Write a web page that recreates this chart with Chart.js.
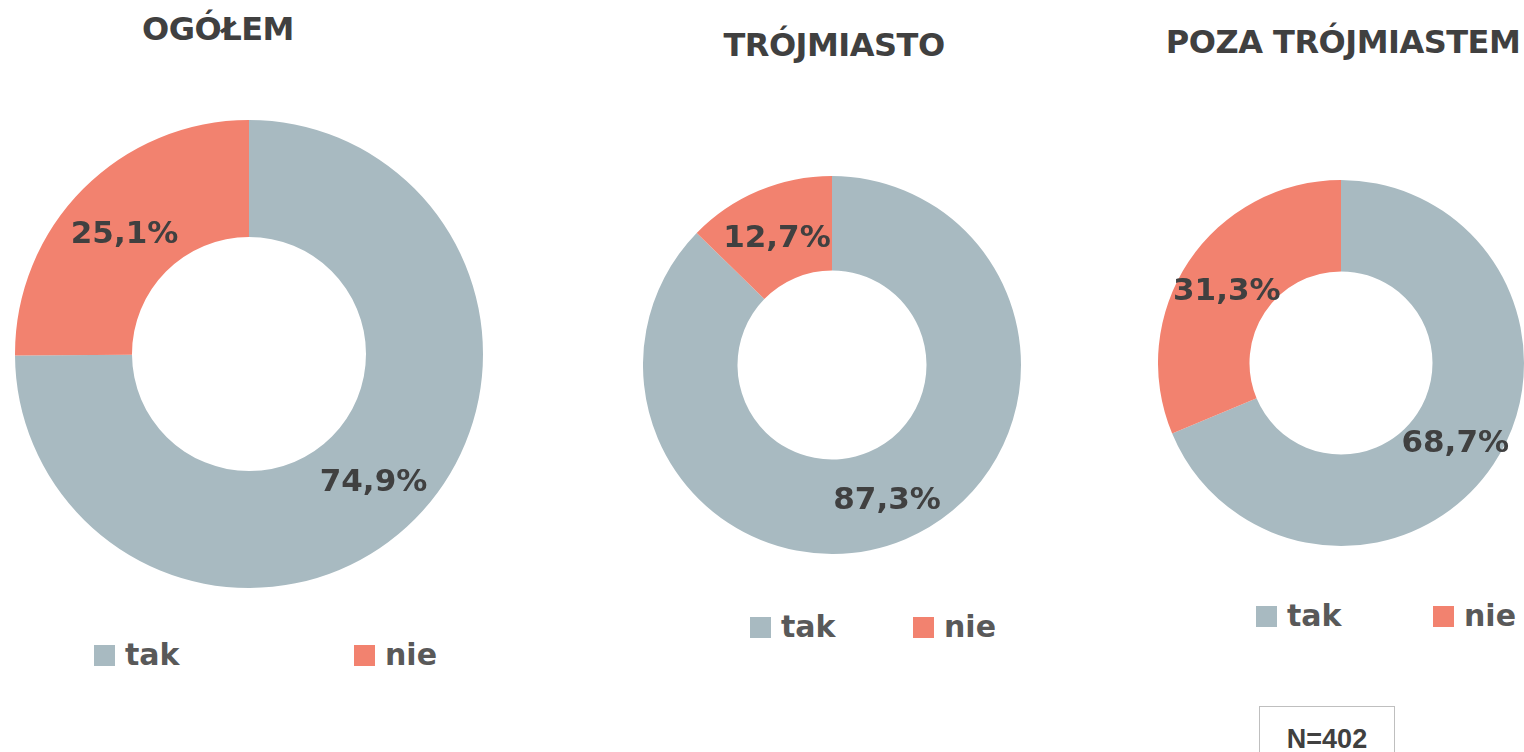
<!DOCTYPE html>
<html>
<head>
<meta charset="utf-8">
<script src="https://cdn.jsdelivr.net/npm/chart.js@4.4.0/dist/chart.umd.min.js"></script>
<style>
body {
  margin: 0;
  width: 1524px;
  height: 752px;
  overflow: hidden;
  background: #ffffff;
  font-family: "DejaVu Sans", sans-serif;
  position: relative;
}
.title {
  position: absolute;
  width: 500px;
  margin-left: -250px;
  text-align: center;
  font-weight: bold;
  font-size: 32px;
  color: #404040;
  letter-spacing: -0.5px;
  line-height: 1;
}
canvas {
  position: absolute;
}
.leg {
  position: absolute;
  font-weight: bold;
  font-size: 30px;
  color: #595959;
  line-height: 1;
  display: flex;
  align-items: center;
}
.leg span.box {
  display: inline-block;
  width: 21px;
  height: 21px;
  margin-right: 10px;
}
#nbox {
  position: absolute;
  left: 1259px;
  top: 706px;
  width: 134px;
  height: 60px;
  border: 1px solid #bfbfbf;
  font-family: "Liberation Sans", Arial, sans-serif;
  font-weight: bold;
  font-size: 27px;
  color: #404040;
  text-align: center;
  line-height: 64px;
}
</style>
</head>
<body>

<script>
// dane
var categories = ["tak", "nie"];
var titles = ["OGÓŁEM", "TRÓJMIASTO", "POZA TRÓJMIASTEM"];
var ogolem = [74.9, 25.1];
var trojmiasto = [87.3, 12.7];
var pozaTrojmiastem = [68.7, 31.3];
var sampleLabel = "N=402";

var colors = ["#a8bac1", "#f2826f"];

// uklad paneli (pozycje w pikselach)
var panels = [
  { data: ogolem, x: 15, y: 120, size: 468, titleX: 218, titleY: 13, legY: 645, legX: [94, 354] },
  { data: trojmiasto, x: 643, y: 176, size: 378, titleX: 834, titleY: 29, legY: 617, legX: [750, 913] },
  { data: pozaTrojmiastem, x: 1158, y: 180, size: 366, titleX: 1343, titleY: 26, legY: 606, legX: [1256, 1433] }
];

// etykiety z procentami w srodku wycinka
var arcLabels = {
  id: "arcLabels",
  afterDatasetsDraw: function(chart) {
    var ctx = chart.ctx;
    var meta = chart.getDatasetMeta(0);
    ctx.save();
    ctx.font = "bold 31px 'DejaVu Sans'";
    ctx.fillStyle = "#404040";
    ctx.textAlign = "center";
    ctx.textBaseline = "middle";
    meta.data.forEach(function(arc, i) {
      var p = arc.tooltipPosition();
      var v = chart.data.datasets[0].data[i];
      ctx.fillText(v.toFixed(1).replace(".", ",") + "%", p.x, p.y + 5);
    });
    ctx.restore();
  }
};

panels.forEach(function(p, idx) {
  var t = document.createElement("div");
  t.className = "title";
  t.style.left = p.titleX + "px";
  t.style.top = p.titleY + "px";
  t.textContent = titles[idx];
  document.body.appendChild(t);

  var c = document.createElement("canvas");
  c.width = p.size;
  c.height = p.size;
  c.style.left = p.x + "px";
  c.style.top = p.y + "px";
  document.body.appendChild(c);

  new Chart(c, {
    type: "doughnut",
    data: {
      labels: categories,
      datasets: [{
        data: p.data,
        backgroundColor: colors,
        borderWidth: 0
      }]
    },
    options: {
      responsive: false,
      animation: false,
      cutout: "50%",
      layout: { padding: 0 },
      plugins: {
        legend: { display: false },
        tooltip: { enabled: false }
      }
    },
    plugins: [arcLabels]
  });

  categories.forEach(function(cat, i) {
    var l = document.createElement("div");
    l.className = "leg";
    l.style.left = p.legX[i] + "px";
    l.style.top = (p.legY - 5) + "px";
    l.innerHTML = '<span class="box" style="background:' + colors[i] + '"></span>' + cat;
    document.body.appendChild(l);
  });
});

var nb = document.createElement("div");
nb.id = "nbox";
nb.textContent = sampleLabel;
document.body.appendChild(nb);
</script>

</body>
</html>
